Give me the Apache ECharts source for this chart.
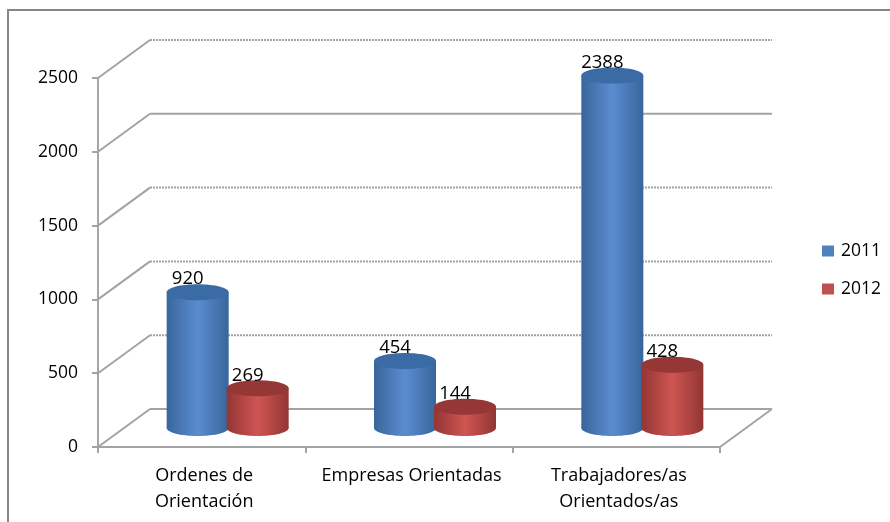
<!DOCTYPE html>
<html>
<head>
<meta charset="utf-8">
<style>html,body{margin:0;padding:0;background:#fff}#c{width:890px;height:522px}</style>
<script src="https://cdn.jsdelivr.net/npm/echarts@6/dist/echarts.min.js"></script>
</head>
<body>
<div id="c"></div>
<script>
const categories = ['Ordenes de\nOrientación', 'Empresas Orientadas', 'Trabajadores/as\nOrientados/as'];
const values2011 = [920, 454, 2388];
const values2012 = [269, 144, 428];
const yTicks = [0, 500, 1000, 1500, 2000, 2500];
const hatchedGridlines = [500, 1000, 1500, 2500];

const FONT = '"Open Sans", Lato, sans-serif';
const WALL = '#a3a3a3';
const DEPTH_X = 52, DEPTH_Y = -38;
const BAR_SHIFT = 30, RX = 31, RY = 8;

function grad(edge, mid) {
  return { type: 'linear', x: 0, y: 0, x2: 1, y2: 0, colorStops: [
    { offset: 0, color: edge }, { offset: 0.5, color: mid }, { offset: 1, color: edge } ] };
}

function cylinder(dir, edge, mid, top) {
  return function (params, api) {
    const i = api.value(0), v = api.value(1);
    const base = api.coord([i, 0]), head = api.coord([i, v]);
    const cx = base[0] + DEPTH_X / 2 + dir * BAR_SHIFT;
    const yb = base[1] + DEPTH_Y / 2;
    const yt = head[1] + DEPTH_Y / 2;
    const fill = grad(edge, mid);
    return { type: 'group', children: [
      { type: 'ellipse', shape: { cx: cx, cy: yb, rx: RX, ry: RY }, style: { fill: fill } },
      { type: 'rect', shape: { x: cx - RX, y: yt, width: RX * 2, height: yb - yt }, style: { fill: fill } },
      { type: 'ellipse', shape: { cx: cx, cy: yt, rx: RX, ry: RY }, style: { fill: top } },
      { type: 'text', x: cx - 10, y: yt - 13, style: { text: String(v), font: '18.5px ' + FONT, fill: '#000', align: 'center', verticalAlign: 'middle' } }
    ] };
  };
}

function wallLine(points, dash) {
  return { type: 'polyline', shape: { points: points }, style: { stroke: WALL, lineWidth: 2, fill: null, lineDash: dash ? [2, 1] : null } };
}

function walls(params, api) {
  const v = api.value(0);
  const sys = params.coordSys;
  const y = api.coord([0, v])[1];
  const xl = sys.x, xr = sys.x + sys.width;
  const backL = [xl + DEPTH_X, y + DEPTH_Y], backR = [xr + DEPTH_X, y + DEPTH_Y];
  const children = [
    wallLine([[xl, y], backL]),
    wallLine([backL, backR], hatchedGridlines.indexOf(v) >= 0)
  ];
  if (v === 0) children.push(wallLine([[xr, y], backR]));
  return { type: 'group', children: children };
}

const chart = echarts.init(document.getElementById('c'), null, { renderer: 'canvas' });
chart.setOption({
  animation: false,
  backgroundColor: '#fff',
  graphic: [{ type: 'rect', z: -10, shape: { x: 8, y: 10, width: 900, height: 530 }, style: { fill: 'none', stroke: '#868686', lineWidth: 2 } }],
  grid: { left: 98, right: 170, top: 78, bottom: 75 },
  legend: {
    data: ['2011', '2012'], orient: 'vertical', left: 817, top: 237, itemWidth: 12, itemHeight: 11, itemGap: 20,
    icon: 'rect', textStyle: { fontFamily: FONT, fontSize: 17.5, color: '#000', padding: [0, 0, 0, 2] }, selectedMode: false
  },
  xAxis: {
    type: 'category', data: categories,
    axisLine: { lineStyle: { color: WALL, width: 2, type: [2, 1] } },
    axisTick: { show: true, length: 6, lineStyle: { color: WALL, width: 2 } },
    axisLabel: { fontFamily: FONT, fontSize: 18, color: '#000', lineHeight: 26, margin: 16, interval: 0, padding: [0, 0, 0, 5] },
    splitLine: { show: false }
  },
  yAxis: {
    type: 'value', min: 0, max: 2500, interval: 500,
    axisLine: { show: true, lineStyle: { color: WALL, width: 2, type: [2, 1] } },
    axisTick: { show: true, length: 6, lineStyle: { color: WALL, width: 2 } },
    axisLabel: { fontFamily: FONT, fontSize: 17.5, color: '#000', margin: 20, padding: [2, 0, 0, 0], formatter: v => String(v) },
    splitLine: { show: false }
  },
  series: [
    { name: 'walls', type: 'custom', coordinateSystem: 'cartesian2d', clip: false, z: 1, silent: true,
      renderItem: walls, encode: { y: 0 }, data: yTicks.map(t => [t]) },
    { name: '2011', type: 'custom', coordinateSystem: 'cartesian2d', clip: false, z: 2,
      itemStyle: { color: '#4f81bd' }, encode: { x: 0, y: 1 },
      renderItem: cylinder(-1, '#38659b', '#5a8dd0', '#3b6ba5'),
      data: values2011.map((v, i) => [i, v]) },
    { name: '2012', type: 'custom', coordinateSystem: 'cartesian2d', clip: false, z: 3,
      itemStyle: { color: '#c0504d' }, encode: { x: 0, y: 1 },
      renderItem: cylinder(1, '#923634', '#cf5552', '#943735'),
      data: values2012.map((v, i) => [i, v]) }
  ]
});
</script>
</body>
</html>
